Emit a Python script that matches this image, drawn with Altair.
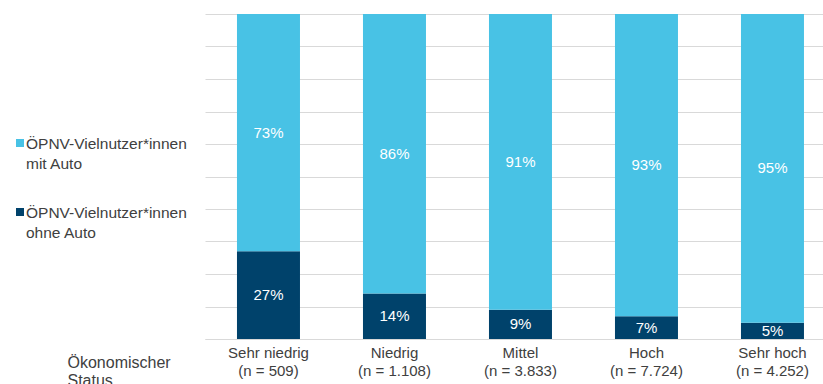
import altair as alt
import pandas as pd

categories = ["Sehr niedrig", "Niedrig", "Mittel", "Hoch", "Sehr hoch"]
n_labels = ["(n = 509)", "(n = 1.108)", "(n = 3.833)", "(n = 7.724)", "(n = 4.252)"]
series = ["ÖPNV-Vielnutzer*innen mit Auto", "ÖPNV-Vielnutzer*innen ohne Auto"]
mit_auto = [73, 86, 91, 93, 95]
ohne_auto = [27, 14, 9, 7, 5]
colors = ["#48C2E5", "#00426B"]
axis_title = ["Ökonomischer", "Status"]
grid_values = [0, 10, 20, 30, 40, 50, 60, 70, 80, 90, 100]

keys = [c + "|" + n for c, n in zip(categories, n_labels)]
rows = []
for k, v in zip(keys, ohne_auto):
    rows.append({"cat": k, "series": series[1], "value": v, "ord": 0})
for k, v in zip(keys, mit_auto):
    rows.append({"cat": k, "series": series[0], "value": v, "ord": 1})
df = pd.DataFrame(rows)
legend_df = pd.DataFrame({"series": series})

FONT = "Liberation Sans"
TXT = "#404040"

xscale = alt.Scale(domain=keys, paddingInner=0.5, paddingOuter=0.2024, align=0.627)
yscale = alt.Scale(domain=[0, 100], nice=False)
cscale = alt.Scale(domain=series, range=colors)

xaxis = alt.Axis(
    title=axis_title, labelExpr="split(datum.value, '|')", labelAngle=0,
    labelFont=FONT, labelFontSize=15, labelColor=TXT, labelLineHeight=18,
    labelPadding=6, labelBaseline="top",
    ticks=False, domainColor="#D9D9D9", domainWidth=1,
    titleFont=FONT, titleFontSize=16, titleFontWeight="normal", titleColor=TXT,
    titleLineHeight=18, titleAlign="left", titleBaseline="alphabetic",
    titleAnchor="start", titleX=-138, titleY=28, grid=False)
yaxis = alt.Axis(
    title=None, labels=False, ticks=False, domain=False, grid=True,
    gridColor="#D9D9D9", gridWidth=1, values=grid_values)

base = alt.Chart(df).transform_stack(
    stack="value", as_=["y0", "y1"], groupby=["cat"],
    sort=[alt.SortField("ord", order="ascending")]
).transform_calculate(
    ymid="(datum.y0 + datum.y1) / 2", label="datum.value + '%'"
)

bars = base.mark_bar().encode(
    x=alt.X("cat:N", scale=xscale, sort=keys, axis=xaxis),
    y=alt.Y("y0:Q", scale=yscale, axis=yaxis),
    y2="y1:Q",
    color=alt.Color("series:N", scale=cscale, legend=None),
)

labels = base.mark_text(font=FONT, fontSize=15, color="white", baseline="middle").encode(
    x=alt.X("cat:N", scale=xscale, sort=keys, axis=xaxis),
    y=alt.Y("ymid:Q", scale=yscale, axis=yaxis),
    text="label:N",
)

leg_base = alt.Chart(legend_df).transform_calculate(
    txt="replace(datum.series, 'innen ', 'innen\\n')"
)
legend_layers = []
for s, sy in zip(series, [129, 198]):
    sq = leg_base.transform_filter(alt.datum.series == s).mark_square(size=64, opacity=1).encode(
        x=alt.value(-185), y=alt.value(sy),
        color=alt.Color("series:N", scale=cscale, legend=None))
    tx = leg_base.transform_filter(alt.datum.series == s).mark_text(
        font=FONT, fontSize=15.5, color=TXT, align="left", baseline="alphabetic",
        lineBreak="\n", lineHeight=20).encode(
        x=alt.value(-179), y=alt.value(sy + 5.5), text="txt:N")
    legend_layers += [sq, tx]

chart = alt.layer(bars, labels, *legend_layers).properties(
    width=618, height=325,
    autosize=alt.AutoSizeParams(type="none"),
    padding={"left": 205, "top": 14, "right": 0, "bottom": 45},
).configure_view(stroke=None)

chart.save("out.html", embed_options={"renderer": "svg", "actions": False})
